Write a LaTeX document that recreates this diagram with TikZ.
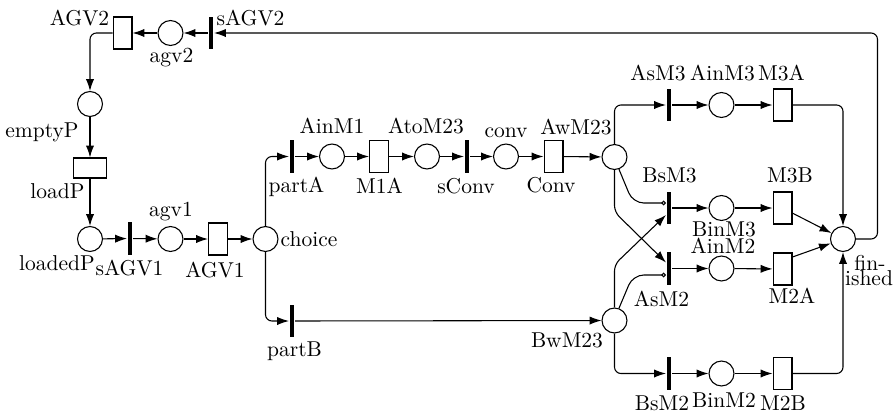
\documentclass[tikz,border=0pt]{standalone}
\usetikzlibrary{arrows.meta,calc}
\begin{document}
\begin{tikzpicture}[x=0.465pt,y=-0.465pt, line width=0.5pt,
 pl/.style={circle,draw,minimum size=11.6pt,inner sep=0pt},
 tbox/.style={rectangle,draw,minimum width=8.8pt,minimum height=14.9pt,inner sep=0pt},
 hbox/.style={rectangle,draw,minimum width=15.3pt,minimum height=9.3pt,inner sep=0pt},
 tbar/.style={rectangle,fill=black,minimum width=2.3pt,minimum height=14.9pt,inner sep=0pt},
 lbl/.style={anchor=base,inner sep=0pt},
 arr/.style={-{Latex[length=5.5pt,width=3.8pt]}},
 inh/.style={-{Circle[open,length=2.2pt,width=2.2pt]}},
 rc/.style={rounded corners=3pt}]
\path[use as bounding box] (0,0) rectangle (896,414);
% places
\node[pl] (agv2) at (170.5,33) {};
\node[pl] (emptyP) at (90,104) {};
\node[pl] (loadedP) at (90,239) {};
\node[pl] (agv1) at (170.5,239) {};
\node[pl] (choice) at (265.5,239) {};
\node[pl] (AinM1) at (332,156.5) {};
\node[pl] (AtoM23) at (427,156.5) {};
\node[pl] (conv) at (506,156.5) {};
\node[pl] (AwM23p) at (614.5,157) {};
\node[pl] (AinM3) at (721.5,105) {};
\node[pl] (BinM3) at (721.5,208) {};
\node[pl] (AinM2) at (721.5,268.5) {};
\node[pl] (BinM2) at (721.5,373.5) {};
\node[pl] (finished) at (843,239) {};
\node[pl] (BwM23) at (614.5,320.5) {};
% timed transitions
\node[tbox] (AGV2) at (122.5,33) {};
\node[hbox] (loadP) at (90,168) {};
\node[tbox] (AGV1) at (218,239) {};
\node[tbox] (M1A) at (379,156.5) {};
\node[tbox] (Conv) at (553.5,156.5) {};
\node[tbox] (M3A) at (782.5,105) {};
\node[tbox] (M3B) at (782.5,208) {};
\node[tbox] (M2A) at (782.5,269) {};
\node[tbox] (M2B) at (782.5,373.5) {};
% immediate transitions
\node[tbar] (sAGV2) at (211,33) {};
\node[tbar] (sAGV1) at (130,238.5) {};
\node[tbar] (partA) at (292,156.5) {};
\node[tbar] (sConv) at (467,156.5) {};
\node[tbar] (partB) at (292,321) {};
\node[tbar] (AsM3) at (669,105) {};
\node[tbar] (BsM3) at (669,208) {};
\node[tbar] (AsM2) at (669,268.5) {};
\node[tbar] (BsM2) at (669,373.5) {};
% labels
\node[lbl] (tAGV2) at (79.5,25) {AGV2};
\node[lbl] (tsAGV2) at (250.5,25) {sAGV2};
\node[lbl] (tagv2) at (171.5,62) {agv2};
\node[lbl] (temptyP) at (42,137) {emptyP};
\node[lbl] (tloadP) at (57.5,198) {loadP};
\node[lbl] (tagv1) at (171,216) {agv1};
\node[lbl] (tloadedP) at (57,270) {loadedP};
\node[lbl] (tsAGV1) at (129.5,275) {sAGV1};
\node[lbl] (tAGV1) at (215,277) {AGV1};
\node[lbl] (tchoice) at (309,246) {choice};
\node[lbl] (tpartA) at (296.5,192) {partA};
\node[lbl] (tAinM1) at (332,133.5) {AinM1};
\node[lbl] (tM1A) at (379.5,193.5) {M1A};
\node[lbl] (tAtoM23) at (426,133.5) {AtoM23};
\node[lbl] (tsConv) at (466,193.5) {sConv};
\node[lbl] (tconv) at (506,137) {conv};
\node[lbl] (tAwM23) at (576,134) {AwM23};
\node[lbl] (tConv) at (551,192.5) {Conv};
\node[lbl] (tAsM3) at (658,80) {AsM3};
\node[lbl] (tAinM3) at (722.5,80) {AinM3};
\node[lbl] (tM3A) at (781.5,80) {M3A};
\node[lbl] (tBsM3) at (669.5,182) {BsM3};
\node[lbl] (tM3B) at (790,182) {M3B};
\node[lbl] (tBinM3) at (724,236) {BinM3};
\node[lbl] (tAinM2) at (723,253) {AinM2};
\node[lbl] (tM2A) at (792,303) {M2A};
\node[lbl] (tAsM2) at (661.5,306) {AsM2};
\node[lbl] (tBwM23) at (567,347) {BwM23};
\node[lbl] (tpartB) at (294.5,356) {partB};
\node[lbl] (tBsM2) at (662,410) {BsM2};
\node[lbl] (tBinM2) at (724,407) {BinM2};
\node[lbl] (tM2B) at (783,410) {M2B};
\node[lbl] (tfin) at (870,270) {fin-};
\node[lbl] (tished) at (869,285) {ished};
% arcs
\draw[arr,rc] (finished.east) -- ++(21.5,0) |- (sAGV2.east);
\draw[arr] (sAGV2) -- (agv2);
\draw[arr] (agv2) -- (AGV2);
\draw[arr,rc] (AGV2.west) -| (emptyP.north);
\draw[arr] (emptyP) -- (loadP);
\draw[arr] (loadP) -- (loadedP);
\draw[arr] (loadedP) -- (sAGV1);
\draw[arr] (sAGV1) -- (agv1);
\draw[arr] (agv1) -- (AGV1);
\draw[arr] (AGV1) -- (choice);
\draw[arr,rc] (choice.north) |- (partA.west);
\draw[arr,rc] (choice.south) |- (partB.west);
\draw[arr] (partA) -- (AinM1);
\draw[arr] (AinM1) -- (M1A);
\draw[arr] (M1A) -- (AtoM23);
\draw[arr] (AtoM23) -- (sConv);
\draw[arr] (sConv) -- (conv);
\draw[arr] (conv) -- (Conv);
\draw[arr] (Conv) -- (AwM23p);
\draw[arr] (partB) -- (BwM23);
\draw[arr,rc] (AwM23p.north) |- (AsM3.west);
\draw[arr] (AsM3) -- (AinM3);
\draw[arr] (AinM3) -- (M3A);
\draw[arr,rc] (M3A.east) -| (finished.north);
\draw[inh,rounded corners=5pt] (AwM23p.-70) -- ($(BsM3.west)+(-33,-5)$) -- ($(BsM3.west)+(0,-5)$);
\draw[arr,rc] (AwM23p.south) -- ++(0,42) -- ($(AsM2.west)+(0,-6)$);
\draw[arr,rc] (BwM23.north) -- ++(0,-43) -- ($(BsM3.west)+(0,7)$);
\draw[inh,rounded corners=5pt] (BwM23.70) -- ($(AsM2.west)+(-33,6.5)$) -- ($(AsM2.west)+(0,6.5)$);
\draw[arr] (BsM3) -- (BinM3);
\draw[arr] (BinM3) -- (M3B);
\draw[arr] (M3B) -- (finished);
\draw[arr] (AsM2) -- (AinM2);
\draw[arr] (AinM2) -- (M2A);
\draw[arr] ($(M2A.east)+(0,-12)$) -- (finished);
\draw[arr,rc] (BwM23.south) |- (BsM2.west);
\draw[arr] (BsM2) -- (BinM2);
\draw[arr] (BinM2) -- (M2B);
\draw[arr,rc] (M2B.east) -| (finished.south);
\end{tikzpicture}
\end{document}
